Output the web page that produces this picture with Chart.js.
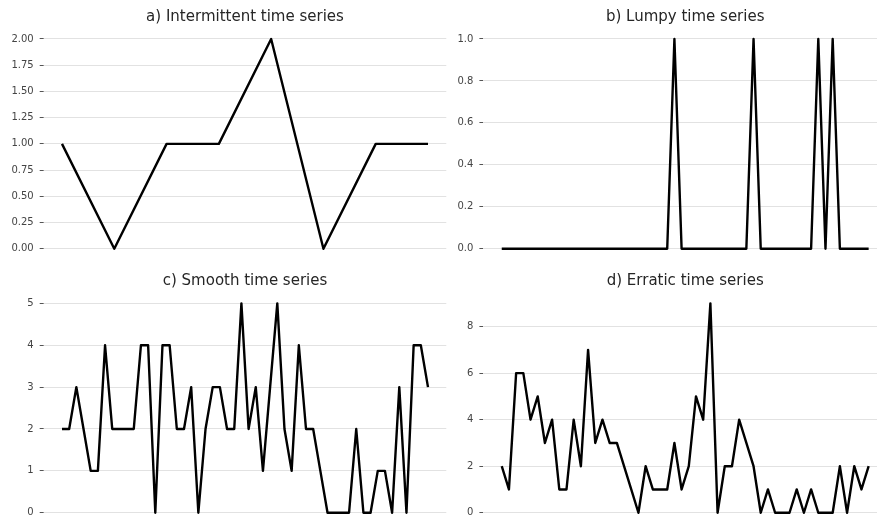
<!DOCTYPE html>
<html>
<head>
<meta charset="utf-8">
<script src="https://cdn.jsdelivr.net/npm/chart.js@4/dist/chart.umd.min.js"></script>
<style>
  html, body { margin: 0; padding: 0; background: #ffffff; overflow: hidden; width: 877px; height: 519px; }
  canvas { position: absolute; }
</style>
</head>
<body>
<canvas id="intermittent" width="447" height="262" style="left:0px;top:0px"></canvas>
<canvas id="lumpy" width="447" height="262" style="left:440px;top:0px"></canvas>
<canvas id="smooth" width="447" height="268" style="left:0px;top:262px"></canvas>
<canvas id="erratic" width="447" height="268" style="left:440px;top:262px"></canvas>
<script>
// Demand series, one value per period
const intermittentValues = [1, 0, 1, 1, 2, 0, 1, 1];
const lumpyValues = [
  0, 0, 0, 0, 0, 0, 0, 0, 0, 0,
  0, 0, 0, 0, 0, 0, 0, 0, 0, 0,
  0, 0, 0, 0, 1, 0, 0, 0, 0, 0,
  0, 0, 0, 0, 0, 1, 0, 0, 0, 0,
  0, 0, 0, 0, 1, 0, 1, 0, 0, 0,
  0, 0
];
const smoothValues = [
  2, 2, 3, 2, 1, 1, 4, 2, 2, 2,
  2, 4, 4, 0, 4, 4, 2, 2, 3, 0,
  2, 3, 3, 2, 2, 5, 2, 3, 1, 3,
  5, 2, 1, 4, 2, 2, 1, 0, 0, 0,
  0, 2, 0, 0, 1, 1, 0, 3, 0, 4,
  4, 3
];
const erraticValues = [
  2, 1, 6, 6, 4, 5, 3, 4, 1, 1,
  4, 2, 7, 3, 4, 3, 3, 2, 1, 0,
  2, 1, 1, 1, 3, 1, 2, 5, 4, 9,
  0, 2, 2, 4, 3, 2, 0, 1, 0, 0,
  0, 1, 0, 1, 0, 0, 0, 2, 0, 2,
  1, 2
];

// Y tick labels per panel
const intermittentTicks = ['0.00', '0.25', '0.50', '0.75', '1.00', '1.25', '1.50', '1.75', '2.00'];
const lumpyTicks = ['0.0', '0.2', '0.4', '0.6', '0.8', '1.0'];
const smoothTicks = ['0', '1', '2', '3', '4', '5'];
const erraticTicks = ['0', '2', '4', '6', '8'];

// Panel titles
const titles = [
  'a) Intermittent time series',
  'b) Lumpy time series',
  'c) Smooth time series',
  'd) Erratic time series'
];

const FONT = "'DejaVu Sans', 'Liberation Sans', sans-serif";

function makePanel(canvasId, title, values, tickLabels, opts) {
  const n = values.length;
  const lo = Math.min(...values), hi = Math.max(...values);
  const span = hi - lo;
  new Chart(document.getElementById(canvasId), {
    type: 'line',
    data: {
      datasets: [{
        data: values.map((v, i) => ({ x: i, y: v })),
        borderColor: '#000000',
        borderWidth: 2.4,
        borderJoinStyle: 'round',
        borderCapStyle: 'butt',
        pointRadius: 0,
        tension: 0,
        fill: false
      }]
    },
    options: {
      responsive: false,
      animation: false,
      devicePixelRatio: 1,
      layout: { padding: { left: 0, top: 0, right: opts.padRight, bottom: opts.padBottom } },
      plugins: {
        legend: { display: false },
        tooltip: { enabled: false },
        title: {
          display: true,
          fullSize: false,
          text: title,
          color: '#262626',
          font: { family: FONT, size: 15, weight: 'normal', lineHeight: 1.2 },
          padding: { top: opts.titleTop, bottom: opts.titleBottom }
        }
      },
      scales: {
        x: {
          type: 'linear',
          display: false,
          min: -0.05 * (n - 1),
          max: 1.05 * (n - 1)
        },
        y: {
          type: 'linear',
          min: lo - 0.05 * span,
          max: hi + 0.05 * span,
          afterBuildTicks: (scale) => {
            scale.ticks = tickLabels.map(t => ({ value: parseFloat(t) }));
          },
          afterFit: (scale) => {
            // fixed axis width; tick labels sit inside the margins already
            scale.width = opts.axisWidth;
            scale.paddingTop = 0;
            scale.paddingBottom = 0;
          },
          border: { display: false },
          grid: {
            color: '#e2e2e2',
            lineWidth: 1,
            drawTicks: true,
            tickLength: 6,
            tickColor: '#555555',
            tickWidth: 1,
            tickBorderDash: [4, 2],
            tickBorderDashOffset: 4
          },
          ticks: {
            autoSkip: false,
            padding: 4,
            color: '#444444',
            font: { family: FONT, size: 10 },
            callback: (value, index) => tickLabels[index]
          }
        }
      }
    }
  });
}

makePanel('intermittent', titles[0], intermittentValues, intermittentTicks,
  { axisWidth: 43.7, padRight: 0.7, padBottom: 2.8, titleTop: 8.5, titleBottom: 2 });
makePanel('lumpy', titles[1], lumpyValues, lumpyTicks,
  { axisWidth: 43.4, padRight: 0, padBottom: 2.8, titleTop: 8.5, titleBottom: 2 });
makePanel('smooth', titles[2], smoothValues, smoothTicks,
  { axisWidth: 43.7, padRight: 0.7, padBottom: 6.8, titleTop: 10, titleBottom: 2.9 });
makePanel('erratic', titles[3], erraticValues, erraticTicks,
  { axisWidth: 43.4, padRight: 0, padBottom: 6.8, titleTop: 10, titleBottom: 2.9 });
</script>
</body>
</html>
